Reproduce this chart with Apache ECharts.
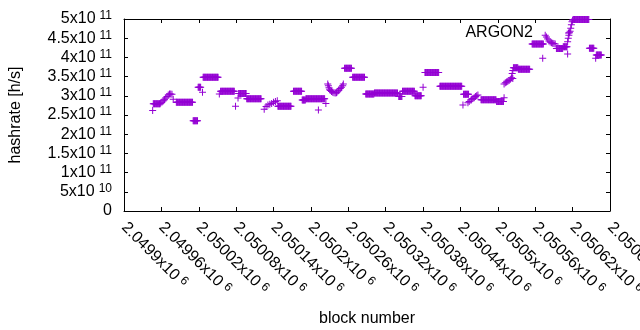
<!DOCTYPE html>
<html>
<head>
<meta charset="utf-8">
<script src="https://cdn.jsdelivr.net/npm/echarts@6/dist/echarts.min.js"></script>
<style>
  html, body { margin: 0; padding: 0; background: #fff; }
  #chart { width: 640px; height: 330px; }
</style>
</head>
<body>
<div id="chart"></div>
<script>
// flat stretches: every block from runFrom to runTo has the same estimate
var runFrom = [2049947, 2049984, 2050011, 2050019, 2050027, 2050055, 2050084, 2050097,
  2050147, 2050172, 2050186, 2050192, 2050254, 2050267, 2050288, 2050302, 2050341,
  2050347, 2050367, 2050383, 2050407, 2050445, 2050473, 2050498, 2050525, 2050533,
  2050555, 2050594, 2050605, 2050621, 2050647, 2050658];
var runTo = [2049958, 2050010, 2050018, 2050023, 2050051, 2050077, 2050096, 2050120,
  2050168, 2050185, 2050191, 2050222, 2050265, 2050286, 2050301, 2050339, 2050346,
  2050366, 2050377, 2050405, 2050442, 2050453, 2050497, 2050509, 2050532, 2050551,
  2050573, 2050604, 2050611, 2050646, 2050654, 2050666];
var runRate = [2.79e11, 2.83e11, 2.35e11, 3.22e11, 3.48e11, 3.12e11, 3.06e11, 2.92e11,
  2.73e11, 3.12e11, 2.89e11, 2.92e11, 3.72e11, 3.48e11, 3.05e11, 3.07e11, 2.98e11,
  3.12e11, 3.00e11, 3.61e11, 3.25e11, 3.04e11, 2.90e11, 2.85e11, 3.73e11, 3.69e11,
  4.35e11, 4.23e11, 4.28e11, 4.99e11, 4.24e11, 4.06e11];

// single blocks (outliers and the sloped stretches)
var dotBlock = [2049946,
  2049959, 2049961, 2049963, 2049965, 2049967, 2049969, 2049971, 2049973, 2049975, 2049977,
  2049979, 2050026, 2050053, 2050079, 2050083,
  2050125, 2050128, 2050131, 2050134, 2050137, 2050140, 2050143, 2050146,
  2050212, 2050224,
  2050227, 2050228, 2050229, 2050230, 2050231, 2050233, 2050235, 2050237, 2050239,
  2050241, 2050242, 2050244, 2050245, 2050247, 2050249, 2050251, 2050252,
  2050380, 2050444,
  2050452, 2050454, 2050457, 2050458, 2050460, 2050462, 2050464, 2050466, 2050468,
  2050510, 2050510, 2050512, 2050514, 2050516, 2050518, 2050520, 2050522, 2050523, 2050524, 2050524,
  2050572,
  2050576, 2050578, 2050580, 2050582, 2050584, 2050586, 2050588, 2050590, 2050592,
  2050612, 2050612,
  2050613, 2050614, 2050615, 2050616, 2050617, 2050618, 2050619, 2050620,
  2050657];
var dotRate = [2.62e11,
  2.82e11, 2.84e11, 2.87e11, 2.90e11, 2.94e11, 2.98e11, 3.02e11, 3.05e11, 3.05e11, 3.04e11,
  2.91e11, 3.09e11, 3.05e11, 2.73e11, 2.94e11,
  2.65e11, 2.72e11, 2.76e11, 2.78e11, 2.80e11, 2.83e11, 2.85e11, 2.87e11,
  2.63e11, 2.80e11,
  3.31e11, 3.26e11, 3.21e11, 3.17e11, 3.14e11, 3.11e11, 3.09e11, 3.08e11, 3.07e11,
  3.08e11, 3.10e11, 3.13e11, 3.15e11, 3.19e11, 3.22e11, 3.26e11, 3.31e11,
  3.22e11, 2.76e11,
  2.82e11, 2.85e11, 2.89e11, 2.91e11, 2.93e11, 2.95e11, 2.98e11, 3.00e11, 3.02e11,
  2.95e11, 3.31e11, 3.34e11, 3.36e11, 3.38e11, 3.40e11, 3.43e11, 3.47e11, 3.58e11, 3.66e11, 3.45e11,
  3.98e11,
  4.58e11, 4.53e11, 4.48e11, 4.43e11, 4.40e11, 4.38e11, 4.37e11, 4.36e11, 4.35e11,
  4.09e11, 4.41e11,
  4.50e11, 4.58e11, 4.64e11, 4.68e11, 4.76e11, 4.85e11, 4.93e11, 4.97e11,
  3.98e11];

var xMin = 2049900, xMax = 2050680, xStep = 60;
var yMin = 0, yMax = 5e11, yStep = 5e10;

var points = [];
for (var r = 0; r < runFrom.length; r++) {
  for (var b = runFrom[r]; b <= runTo[r]; b++) points.push([b, runRate[r]]);
}
for (var d = 0; d < dotBlock.length; d++) points.push([dotBlock[d], dotRate[d]]);

var plus = 'path://M0,3H7V4H0Z M3,0H4V7H3Z';
var purple = '#9400d3';
var font = 'Liberation Sans';

function sci(v) {
  if (v === 0) return '{m|0}';
  var e = Math.floor(Math.log10(v) + 1e-9);
  var m = +(v / Math.pow(10, e)).toFixed(5);
  return '{m|' + m + 'x10}{e|' + e + '}';
}
var rich = {
  m: { fontFamily: font, fontSize: 16, color: '#000', lineHeight: 18 },
  e: { fontFamily: font, fontSize: 12, color: '#000', lineHeight: 11, verticalAlign: 'top', padding: [0, 0, 0, 4] }
};

var chart = echarts.init(document.getElementById('chart'));
var tickStyle = { inside: true, length: 4, lineStyle: { color: '#000', width: 1 } };
var lineStyle = { show: true, onZero: false, lineStyle: { color: '#000', width: 1 } };

chart.setOption({
  animation: false,
  backgroundColor: '#fff',
  grid: { left: 124, right: 30, top: 19, bottom: 119, containLabel: false, outerBoundsMode: 'none' },
  legend: {
    data: [{ name: 'ARGON2', icon: plus }],
    right: 68,
    top: 25,
    padding: 0,
    align: 'right',
    itemWidth: 7,
    itemHeight: 7,
    textStyle: { fontFamily: font, fontSize: 16, color: '#000', padding: [0, 27, 0, 0] }
  },
  xAxis: [
    {
      type: 'value', min: xMin, max: xMax, interval: xStep,
      name: 'block number', nameLocation: 'middle', nameGap: 100,
      nameTextStyle: { fontFamily: font, fontSize: 16, color: '#000' },
      axisLine: lineStyle, axisTick: tickStyle, splitLine: { show: false },
      axisLabel: {
        rotate: -45, margin: 14, showMinLabel: true, showMaxLabel: true,
        formatter: function (v) { return sci(v); }, rich: rich
      }
    },
    {
      type: 'value', position: 'top', min: xMin, max: xMax, interval: xStep,
      axisLine: lineStyle, axisTick: tickStyle, splitLine: { show: false },
      axisLabel: { show: false }
    }
  ],
  yAxis: [
    {
      type: 'value', min: yMin, max: yMax, interval: yStep,
      name: 'hashrate [h/s]', nameLocation: 'middle', nameGap: 100,
      nameTextStyle: { fontFamily: font, fontSize: 16, color: '#000' },
      axisLine: lineStyle, axisTick: tickStyle, splitLine: { show: false },
      axisLabel: { margin: 12, formatter: function (v) { return sci(v); }, rich: rich }
    },
    {
      type: 'value', position: 'right', min: yMin, max: yMax, interval: yStep,
      axisLine: lineStyle, axisTick: tickStyle, splitLine: { show: false },
      axisLabel: { show: false }
    }
  ],
  series: [{
    name: 'ARGON2',
    type: 'scatter',
    symbol: plus,
    symbolSize: 7,
    itemStyle: { color: purple, opacity: 1 },
    data: points
  }]
});
</script>
</body>
</html>
